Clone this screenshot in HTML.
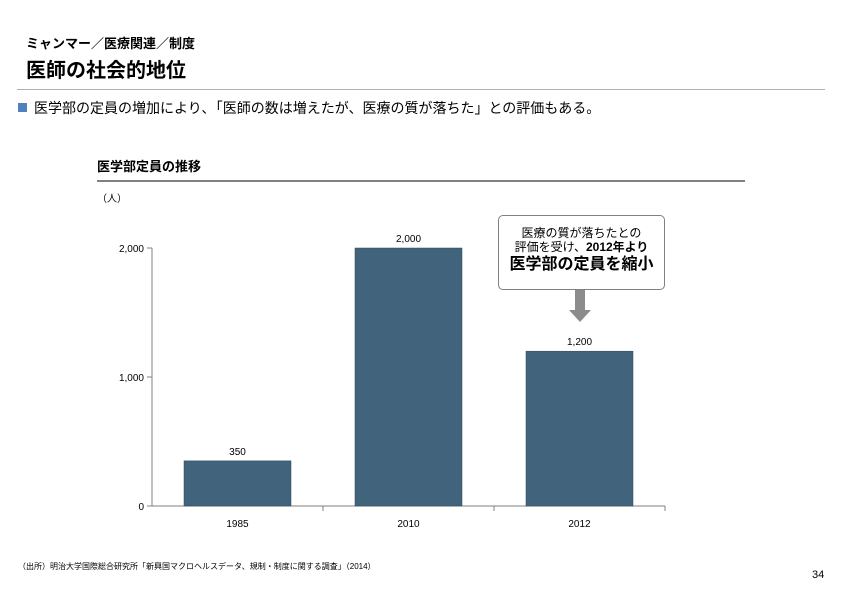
<!DOCTYPE html>
<html><head><meta charset="utf-8"><style>
body{margin:0;width:842px;height:595px;background:#fff;position:relative;overflow:hidden;font-family:"Liberation Sans","Noto Sans CJK JP",sans-serif;color:#000}
.a{position:absolute;white-space:nowrap}
</style></head><body>
<div class="a" style="left:26px;top:33px;font-size:13px;font-weight:bold">ミャンマー／医療関連／制度</div>
<div class="a" style="left:26px;top:54px;font-size:20px;font-weight:bold">医師の社会的地位</div>
<div class="a" style="left:17px;top:89px;width:808px;height:1px;background:#b0b0b0"></div>
<div class="a" style="left:18px;top:103px;width:9px;height:9px;background:#4f81bd"></div>
<div class="a" style="left:34px;top:98px;font-size:14px">医学部の定員の増加により､「医師の数は増えたが、医療の質が落ちた」との評価もある。</div>
<div class="a" style="left:97px;top:156px;font-size:13px;font-weight:bold">医学部定員の推移</div>
<div class="a" style="left:97px;top:180px;width:648px;height:2px;background:#808080"></div>
<div class="a" style="left:97px;top:190px;font-size:10px">（人）</div>
<svg class="a" style="left:0;top:0" width="842" height="595" id="chart"></svg>
<div class="a" style="left:498px;top:215px;width:165px;height:73px;border:1.5px solid #808080;border-radius:5px;background:#fff;text-align:center;font-size:12px;line-height:14px">
<div style="margin-top:10px">医療の質が落ちたとの</div>
<div>評価を受け、<b>2012年より</b></div>
<div style="font-size:16px;font-weight:bold;line-height:22px">医学部の定員を縮小</div>
</div>
<svg class="a" style="left:568px;top:290px" width="24" height="34"><rect x="7" y="0" width="10" height="20" fill="#8c8c8c"/><polygon points="1,20 23,20 12,32" fill="#8c8c8c"/></svg>
<div class="a" style="left:18px;top:561px;font-size:8px">（出所）明治大学国際総合研究所「新興国マクロヘルスデータ、規制・制度に関する調査」（2014）</div>
<div class="a" style="left:812px;top:569px;font-size:11px">34</div>
<script>
const categories=["1985","2010","2012"];
const values=[350,2000,1200];
const valueLabels=["350","2,000","1,200"];
const yTicks=[0,1000,2000];
const yTickLabels=["0","1,000","2,000"];
const ns="http://www.w3.org/2000/svg";
const svg=document.getElementById("chart");
const x0=152,x1=665,yBase=506,yTop=248,yMax=2000;
const y=v=>yBase-(v/yMax)*(yBase-yTop);
const band=(x1-x0)/categories.length, bw=107;
const xc=i=>x0+band*(i+0.5);
function mk(t,a){const e=document.createElementNS(ns,t);for(const k in a)e.setAttribute(k,a[k]);svg.appendChild(e);return e;}
let ax=mk("line",{x1:x0,y1:yTop,x2:x0,y2:yBase,stroke:"#808080"});


let bx=mk("line",{x1:x0,y1:yBase,x2:x1,y2:yBase,stroke:"#808080"});


yTicks.forEach((v,i)=>{
 let t=mk("line",{x1:x0-5,y1:y(v),x2:x0,y2:y(v),stroke:"#808080"});
 
 
 let l=mk("text",{x:x0-8,y:y(v)+4,"text-anchor":"end","font-size":"10"});l.textContent=yTickLabels[i];
 
 
});
categories.forEach((c,i)=>{
 let b=mk("rect",{x:xc(i)-bw/2,y:y(values[i]),width:bw,height:yBase-y(values[i]),fill:"#42637c",stroke:"#2f4a5e","stroke-width":"0.5"});
 
 
 let v=mk("text",{x:xc(i),y:y(values[i])-6,"text-anchor":"middle","font-size":"10"});v.textContent=valueLabels[i];
 
 
 let l=mk("text",{x:xc(i),y:yBase+21,"text-anchor":"middle","font-size":"10"});l.textContent=c;
 
 
 let t=mk("line",{x1:x0+band*(i+1),y1:yBase,x2:x0+band*(i+1),y2:yBase+5,stroke:"#808080"});
 
 
});
</script>
</body></html>
